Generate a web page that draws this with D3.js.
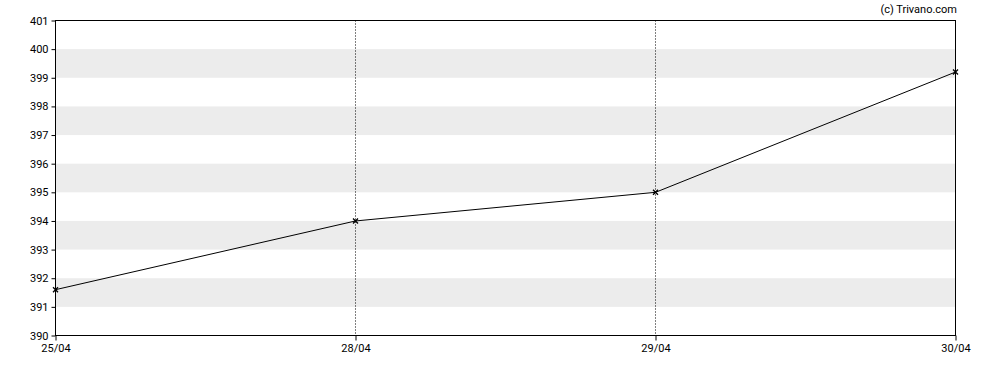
<!DOCTYPE html>
<html><head><meta charset="utf-8">
<script src="https://cdn.jsdelivr.net/npm/d3@7/dist/d3.min.js"></script>
<style>body{margin:0;background:#fff;font-family:Roboto,Arial,sans-serif;}</style>
</head><body><svg id="c" width="988" height="370"></svg>
<script>
const categories = ["25/04","28/04","29/04","30/04"];
const values = [391.6, 394.0, 395.0, 399.2];
const yTicks = [390,391,392,393,394,395,396,397,398,399,400,401];
const bands = [[391,392],[393,394],[395,396],[397,398],[399,400]];
const credit = "(c) Trivano.com";

const svg = d3.select("#c");
const L=55.5, R=955.5, T=20.5, B=335.5;
const x = d3.scalePoint().domain(categories).range([L,R]);
const y = d3.scaleLinear().domain([390,401]).range([B,T]);

svg.append("g").selectAll("rect").data(bands).join("rect")
 .attr("x",L).attr("width",R-L).attr("y",d=>y(d[1])).attr("height",d=>y(d[0])-y(d[1]))
 .attr("fill","#ececec");

svg.append("g").selectAll("line").data(categories.slice(1,-1)).join("line")
 .attr("x1",d=>x(d)).attr("x2",d=>x(d)).attr("y1",T).attr("y2",B)
 .attr("stroke","#000").attr("stroke-dasharray","1,2");

svg.append("rect").attr("x",L).attr("y",T).attr("width",R-L).attr("height",B-T)
 .attr("fill","none").attr("stroke","#000");

const ya = svg.append("g").attr("transform",`translate(${L},0)`)
 .call(d3.axisLeft(y).tickValues(yTicks).tickSize(4).tickPadding(3).tickFormat(d3.format("d")));
ya.select(".domain").remove();
ya.selectAll("text").attr("font-size",11).attr("font-family","Roboto,Arial,sans-serif").attr("fill","#000");

const xa = svg.append("g").attr("transform",`translate(0,${B})`)
 .call(d3.axisBottom(x).tickSize(5).tickPadding(4));
xa.select(".domain").remove();
xa.selectAll("text").attr("font-size",11).attr("font-family","Roboto,Arial,sans-serif").attr("fill","#000");

const line = d3.line().x((d,i)=>x(categories[i])).y(d=>y(d));
svg.append("path").datum(values).attr("d",line).attr("fill","none").attr("stroke","#000").attr("stroke-width",1);

const s=2.5;
svg.append("g").selectAll("path").data(values).join("path")
 .attr("d",(d,i)=>{const cx=x(categories[i]), cy=y(d);return `M${cx-s},${cy-s}L${cx+s},${cy+s}M${cx-s},${cy+s}L${cx+s},${cy-s}`;})
 .attr("stroke","#000").attr("stroke-width",1.3);

svg.append("text").attr("x",957).attr("y",13).attr("text-anchor","end")
 .attr("font-size",11).attr("font-family","Roboto,Arial,sans-serif").text(credit);
</script></body></html>
